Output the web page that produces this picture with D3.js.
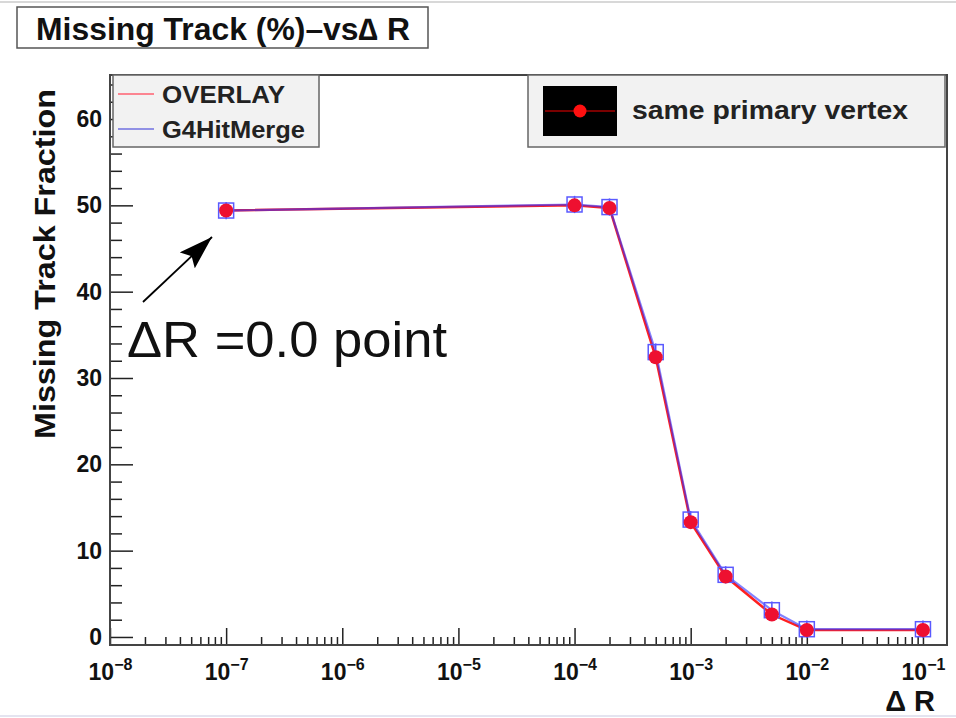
<!DOCTYPE html>
<html>
<head>
<meta charset="utf-8">
<script src="https://cdn.jsdelivr.net/npm/d3@7"></script>
<style>
  body { margin: 0; background: #fff; }
  text { font-family: "Liberation Sans", Helvetica, Arial, sans-serif; }
</style>
</head>
<body>
<div id="chart"></div>
<script>
// data
const deltaR = [1e-7, 1e-4, 2e-4, 5e-4, 1e-3, 2e-3, 5e-3, 1e-2, 1e-1];
const overlay = [49.4, 50.0, 49.7, 32.4, 13.3, 7.0, 2.6, 0.8, 0.8];
const g4HitMerge = [49.4, 50.1, 49.8, 33.0, 13.6, 7.2, 3.1, 0.9, 0.9];
const yTicks = [0, 10, 20, 30, 40, 50, 60];
const xDecades = [-8, -7, -6, -5, -4, -3, -2, -1];

const width = 956, height = 718;
const frame = { left: 110, right: 947, top: 75, bottom: 645 };

const svg = d3.select('#chart')
    .append('svg')
    .attr('width', width)
    .attr('height', height);

// scales
const xScale = d3.scaleLog()
    .domain([1e-8, Math.pow(10, -0.793)])
    .range([frame.left, frame.right]);

const yScale = d3.scaleLinear()
    .domain([-0.93, 65.1])
    .range([frame.bottom, frame.top]);

// faint page edges
svg.append('line').attr('x1', 0).attr('x2', width).attr('y1', 2).attr('y2', 2)
    .attr('stroke', '#d8d8d8').attr('stroke-width', 2);
svg.append('line').attr('x1', 0).attr('x2', width).attr('y1', 716).attr('y2', 716)
    .attr('stroke', '#e4e4f0').attr('stroke-width', 2);

// title box
svg.append('rect')
    .attr('x', 17).attr('y', 7).attr('width', 411).attr('height', 41)
    .attr('fill', '#fff').attr('stroke', '#555').attr('stroke-width', 1.5);
svg.append('text')
    .attr('x', 36).attr('y', 40)
    .attr('font-size', 31).attr('font-weight', 'bold').attr('fill', '#111')
    .attr('textLength', 374).attr('lengthAdjust', 'spacingAndGlyphs')
    .text('Missing Track (%)\u2013vs\u2206 R');

// y axis
const yMinor = d3.range(0, 65, 2).filter(v => v % 10 !== 0);
svg.append('g')
    .attr('transform', 'translate(' + frame.left + ',0)')
    .call(d3.axisLeft(yScale).tickValues(yMinor).tickSize(-12).tickFormat(''))
    .call(g => g.select('.domain').remove())
    .call(g => g.selectAll('line').attr('stroke', '#222').attr('stroke-width', 1.5));

svg.append('g')
    .attr('transform', 'translate(' + frame.left + ',0)')
    .call(d3.axisLeft(yScale).tickValues(yTicks).tickSize(-23).tickPadding(8))
    .call(g => g.select('.domain').remove())
    .call(g => g.selectAll('line').attr('stroke', '#222').attr('stroke-width', 1.5))
    .call(g => g.selectAll('text')
        .attr('font-size', 23).attr('font-weight', 'bold').attr('fill', '#111')
        .attr('font-family', '"Liberation Sans", Arial, sans-serif'));

// x axis, log ticks
const xMinor = [];
xDecades.forEach(e => {
    for (let m = 2; m <= 9; m++) {
        const v = m * Math.pow(10, e);
        if (v <= xScale.domain()[1]) xMinor.push(v);
    }
});
svg.append('g')
    .attr('transform', 'translate(0,' + frame.bottom + ')')
    .call(d3.axisBottom(xScale).tickValues(xMinor).tickSize(-8).tickFormat(''))
    .call(g => g.select('.domain').remove())
    .call(g => g.selectAll('line').attr('stroke', '#222').attr('stroke-width', 1.5));

const xAxisG = svg.append('g')
    .attr('transform', 'translate(0,' + frame.bottom + ')')
    .call(d3.axisBottom(xScale).tickValues(xDecades.map(e => Math.pow(10, e))).tickSize(-17).tickFormat(''))
    .call(g => g.select('.domain').remove())
    .call(g => g.selectAll('line').attr('stroke', '#222').attr('stroke-width', 1.5));

xAxisG.selectAll('.tick')
    .append('text')
    .attr('y', 35)
    .attr('text-anchor', 'middle')
    .attr('font-size', 23).attr('font-weight', 'bold').attr('fill', '#111')
    .each(function (d) {
        const t = d3.select(this);
        t.append('tspan').text('10');
        t.append('tspan').attr('dy', -10).attr('font-size', 16).text('\u2212' + Math.round(-Math.log10(d)));
    });

// frame
svg.append('rect')
    .attr('x', frame.left).attr('y', frame.top)
    .attr('width', frame.right - frame.left).attr('height', frame.bottom - frame.top)
    .attr('fill', 'none').attr('stroke', '#444').attr('stroke-width', 2);

// axis titles
svg.append('text')
    .attr('transform', 'translate(55,264) rotate(-90)')
    .attr('text-anchor', 'middle')
    .attr('font-size', 30).attr('font-weight', 'bold').attr('fill', '#111')
    .attr('textLength', 350).attr('lengthAdjust', 'spacingAndGlyphs')
    .text('Missing Track Fraction');

svg.append('text')
    .attr('x', 935).attr('y', 711)
    .attr('text-anchor', 'end')
    .attr('font-size', 29).attr('font-weight', 'bold').attr('fill', '#111')
    .text('\u0394 R');

// series
const line = d3.line()
    .x(d => xScale(d[0]))
    .y(d => yScale(d[1]));

const redPts = deltaR.map((x, i) => [x, overlay[i]]);
const bluePts = deltaR.map((x, i) => [x, g4HitMerge[i]]);

svg.append('path')
    .datum(redPts)
    .attr('d', line)
    .attr('fill', 'none').attr('stroke', '#ff2020').attr('stroke-width', 2.5);
svg.append('path')
    .datum(bluePts)
    .attr('d', line)
    .attr('fill', 'none').attr('stroke', '#3030ff').attr('stroke-width', 2.2).attr('opacity', 0.6);

// error bars
svg.append('g').selectAll('line')
    .data(bluePts)
    .enter()
    .append('line')
    .attr('x1', d => xScale(d[0])).attr('x2', d => xScale(d[0]))
    .attr('y1', d => yScale(d[1] + 1)).attr('y2', d => yScale(d[1] - 1))
    .attr('stroke', '#5050ff').attr('stroke-width', 1.5);

// blue open squares
svg.append('g').selectAll('rect')
    .data(bluePts)
    .enter()
    .append('rect')
    .attr('x', d => xScale(d[0]) - 7.5)
    .attr('y', d => yScale(d[1]) - 7.5)
    .attr('width', 15).attr('height', 15)
    .attr('fill', 'none').attr('stroke', '#5a5aff').attr('stroke-width', 1.5);

// red filled circles
svg.append('g').selectAll('circle')
    .data(redPts)
    .enter()
    .append('circle')
    .attr('cx', d => xScale(d[0]))
    .attr('cy', d => yScale(d[1]))
    .attr('r', 7)
    .attr('fill', '#ee1030');

// legend 1
svg.append('rect')
    .attr('x', 113).attr('y', 75).attr('width', 206).attr('height', 72)
    .attr('fill', '#f2f2f2').attr('stroke', '#666').attr('stroke-width', 1.5);
const legendItems = [['OVERLAY', '#ff6070', 94, 123], ['G4HitMerge', '#7070e0', 129, 143]];
legendItems.forEach(([label, c, y, w]) => {
    svg.append('line').attr('x1', 118).attr('x2', 154).attr('y1', y).attr('y2', y)
        .attr('stroke', c).attr('stroke-width', 1.5);
    svg.append('text').attr('x', 162).attr('y', y + 9)
        .attr('font-size', 24).attr('font-weight', 'bold').attr('fill', '#222')
        .attr('textLength', w).attr('lengthAdjust', 'spacingAndGlyphs')
        .text(label);
});

// legend 2
svg.append('rect')
    .attr('x', 528).attr('y', 75).attr('width', 417).attr('height', 72)
    .attr('fill', '#f2f2f2').attr('stroke', '#666').attr('stroke-width', 1.5);
svg.append('rect')
    .attr('x', 543).attr('y', 86).attr('width', 74).attr('height', 50)
    .attr('fill', '#000');
svg.append('line').attr('x1', 545).attr('x2', 615).attr('y1', 111).attr('y2', 111)
    .attr('stroke', '#7a0000').attr('stroke-width', 2);
svg.append('circle').attr('cx', 580).attr('cy', 111).attr('r', 6.5).attr('fill', '#ff1010');
svg.append('text').attr('x', 632).attr('y', 119)
    .attr('font-size', 25).attr('font-weight', 'bold').attr('fill', '#222')
    .attr('textLength', 276).attr('lengthAdjust', 'spacingAndGlyphs')
    .text('same primary vertex');

// annotation arrow with a big filled head
svg.append('defs').append('marker')
    .attr('id', 'arrow')
    .attr('viewBox', '0 0 34 22')
    .attr('refX', 34).attr('refY', 11)
    .attr('markerWidth', 34).attr('markerHeight', 22)
    .attr('markerUnits', 'userSpaceOnUse')
    .attr('orient', 'auto')
    .append('path')
    .attr('d', 'M0,0 L34,11 L0,22 L6,11 Z')
    .attr('fill', '#000');

svg.append('line')
    .attr('x1', 143).attr('y1', 302)
    .attr('x2', 212).attr('y2', 237)
    .attr('stroke', '#000').attr('stroke-width', 1.8)
    .attr('marker-end', 'url(#arrow)');

svg.append('text')
    .attr('x', 127).attr('y', 357)
    .attr('font-size', 50).attr('fill', '#111')
    .attr('textLength', 320).attr('lengthAdjust', 'spacingAndGlyphs')
    .text('\u0394R =0.0 point');
</script>
</body>
</html>
